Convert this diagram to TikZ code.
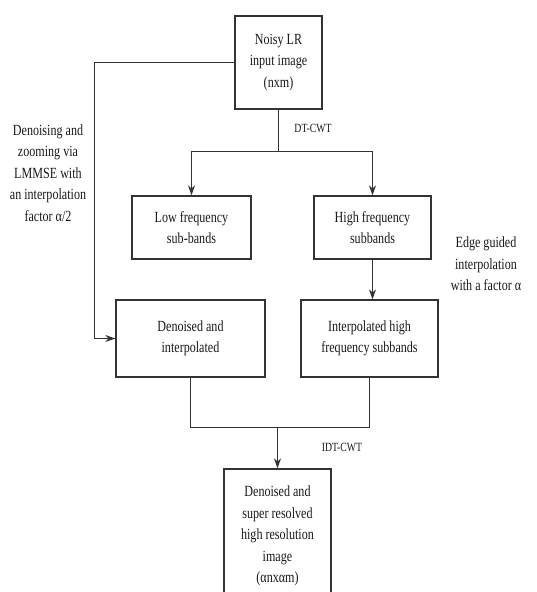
\documentclass[tikz,border=0pt]{standalone}
\usepackage{fontspec}
\setmainfont[FakeStretch=0.78]{Liberation Serif}
\usetikzlibrary{arrows.meta}

\begin{document}
\begin{tikzpicture}[x=1pt,y=-1pt,
  every node/.style={text=black!90},
  stage/.style={draw=black!80, line width=1.3pt, align=center, inner sep=0pt,
    font=\fontsize{15.5}{21.5}\selectfont},
  note/.style={align=center, font=\fontsize{15.5}{21.5}\selectfont},
  tag/.style={font=\fontsize{12.5}{14}\selectfont},
  link/.style={draw=black!80, line width=1.3pt},
  >={Stealth[length=10pt,width=7pt]}]
\useasboundingbox (0,0) rectangle (536,592);
\clip (0,0) rectangle (536,592);
% stages
\node[stage, minimum width=87pt, minimum height=93pt] (noisy) at (278.5,62.5) {Noisy LR\\input image\\(nxm)};
\node[stage, minimum width=119pt, minimum height=63pt] (low) at (191.5,227.5) {Low frequency\\sub-bands};
\node[stage, minimum width=117pt, minimum height=63pt] (high) at (372.5,227.5) {High frequency\\subbands};
\node[stage, minimum width=149pt, minimum height=77pt] (den) at (190.5,338.5) {Denoised and\\interpolated};
\node[stage, minimum width=137pt, minimum height=77pt] (interp) at (369.5,338.5) {Interpolated high\\frequency subbands};
\node[stage, minimum width=107pt, minimum height=134pt] (out) at (277.5,536) {Denoised and\\super resolved\\high resolution\\image\\(αnxαm)};
% side notes
\node[tag] (dtcwt) at (313,128) {DT-CWT};
\node[tag] (idtcwt) at (342,447) {IDT-CWT};
\node[note] (lmmse) at (48,173) {Denoising and\\zooming via\\LMMSE with\\an interpolation\\factor α/2};
\node[note] (edge) at (486,264) {Edge guided\\interpolation\\with a factor α};
% connectors
\coordinate (split) at ([yshift=-42pt]noisy.south);
\coordinate (join) at ([yshift=41pt]out.north);
\coordinate (bend) at ([xshift=-140pt]noisy.west);
\draw[link] (noisy.south) -- (split);
\draw[link,->] (split) -| (low);
\draw[link,->] (split) -| (high);
\draw[link,->] (high.south) -- (high.south |- interp.north);
\draw[link] (den.south) |- (join) -| (interp.south);
\draw[link,->] (join) -- (out);
\draw[link,->] (noisy.west) -- (bend) |- (den.west);
\end{tikzpicture}
\end{document}
